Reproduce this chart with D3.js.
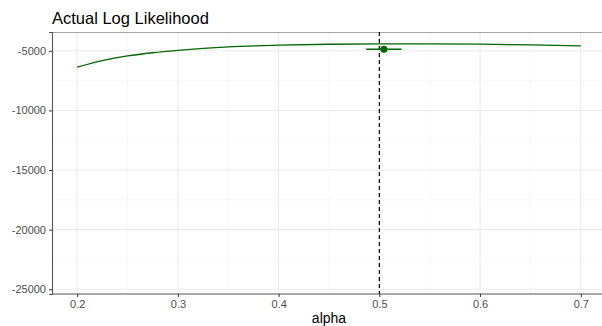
<!DOCTYPE html>
<html>
<head>
<meta charset="utf-8">
<script src="https://cdn.jsdelivr.net/npm/d3@7"></script>
<style>
	body { margin: 0; background: #fff; }
	text { font-family: "Liberation Sans", Arial, sans-serif; }
</style>
</head>
<body>
<div id="chart"></div>
<script>
// log likelihood curve over alpha
var alphas = [0.2, 0.225, 0.25, 0.275, 0.3, 0.35, 0.4, 0.45, 0.5, 0.55, 0.6, 0.65, 0.7];
var logLik = [-6370, -5820, -5430, -5160, -4960, -4670, -4530, -4450, -4425, -4420, -4445, -4500, -4590];

// estimate with horizontal error bar
var estAlpha = [0.5045];
var estLogLik = [-4870];
var estLow = [0.487];
var estHigh = [0.522];

var trueAlpha = 0.5;

var xTicks = [0.2, 0.3, 0.4, 0.5, 0.6, 0.7];
var yTicks = [-5000, -10000, -15000, -20000, -25000];
var yLimits = [-24400, -4420];

var width = 602,
	height = 326;
var margin = {top: 32, right: -4, bottom: 32, left: 52};

var svg = d3.select("#chart")
	.append("svg")
		.attr("width", width)
		.attr("height", height);

var xExt = d3.extent(alphas);
var xPad = (xExt[1] - xExt[0]) * 0.05;
var yPad = (yLimits[1] - yLimits[0]) * 0.05;

var x = d3.scaleLinear()
	.domain([xExt[0] - xPad, xExt[1] + xPad])
	.range([margin.left, width - margin.right]);

var y = d3.scaleLinear()
	.domain([yLimits[0] - yPad, yLimits[1] + yPad])
	.range([height - margin.bottom, margin.top]);

var panel = svg.append("g");

// minor grid
var xMinor = xTicks.map(function(d) { return d + 0.05; }).concat([0.15]);
var yMinor = yTicks.map(function(d) { return d - 2500; }).concat([-2500]);

panel.selectAll("line.xminor")
	.data(xMinor.filter(function(d) { return d > x.domain()[0] && d < x.domain()[1]; }))
	.enter().append("line")
		.attr("x1", function(d) { return x(d); })
		.attr("x2", function(d) { return x(d); })
		.attr("y1", margin.top)
		.attr("y2", height - margin.bottom)
		.attr("stroke", "#f3f3f3")
		.attr("stroke-width", 0.6);

panel.selectAll("line.yminor")
	.data(yMinor.filter(function(d) { return d > y.domain()[0] && d < y.domain()[1]; }))
	.enter().append("line")
		.attr("y1", function(d) { return y(d); })
		.attr("y2", function(d) { return y(d); })
		.attr("x1", margin.left)
		.attr("x2", width)
		.attr("stroke", "#f3f3f3")
		.attr("stroke-width", 0.6);

// major grid
panel.selectAll("line.xmajor")
	.data(xTicks)
	.enter().append("line")
		.attr("x1", function(d) { return x(d); })
		.attr("x2", function(d) { return x(d); })
		.attr("y1", margin.top)
		.attr("y2", height - margin.bottom)
		.attr("stroke", "#ebebeb")
		.attr("stroke-width", 1.1);

panel.selectAll("line.ymajor")
	.data(yTicks)
	.enter().append("line")
		.attr("y1", function(d) { return y(d); })
		.attr("y2", function(d) { return y(d); })
		.attr("x1", margin.left)
		.attr("x2", width)
		.attr("stroke", "#ebebeb")
		.attr("stroke-width", 1.1);

// panel border (top)
panel.append("line")
	.attr("x1", margin.left).attr("x2", width)
	.attr("y1", margin.top + 0.5).attr("y2", margin.top + 0.5)
	.attr("stroke", "#a6a6a6")
	.attr("stroke-width", 1);

// the curve
var line = d3.line()
	.x(function(d) { return x(d[0]); })
	.y(function(d) { return y(d[1]); })
	.curve(d3.curveMonotoneX);

panel.append("path")
	.datum(d3.zip(alphas, logLik))
	.attr("d", line)
	.attr("fill", "none")
	.attr("stroke", "#006400")
	.attr("stroke-width", 1.3);

// dashed reference line
panel.append("line")
	.attr("x1", x(trueAlpha)).attr("x2", x(trueAlpha))
	.attr("y1", margin.top).attr("y2", height - margin.bottom)
	.attr("stroke", "#000")
	.attr("stroke-width", 1.2)
	.attr("stroke-dasharray", "4,3");

// estimate
var est = d3.zip(estAlpha, estLogLik, estLow, estHigh);

panel.selectAll("line.err")
	.data(est)
	.enter().append("line")
		.attr("x1", function(d) { return x(d[2]); })
		.attr("x2", function(d) { return x(d[3]); })
		.attr("y1", function(d) { return y(d[1]); })
		.attr("y2", function(d) { return y(d[1]); })
		.attr("stroke", "#006400")
		.attr("stroke-width", 1.3);

panel.selectAll("circle")
	.data(est)
	.enter().append("circle")
		.attr("cx", function(d) { return x(d[0]); })
		.attr("cy", function(d) { return y(d[1]); })
		.attr("r", 3.6)
		.attr("fill", "#006400");

// axes
var xAxis = svg.append("g")
	.attr("transform", "translate(0," + (height - margin.bottom) + ")")
	.call(d3.axisBottom(x).tickValues(xTicks).tickSize(3).tickPadding(3).tickFormat(d3.format(".1f")));

var yAxis = svg.append("g")
	.attr("transform", "translate(" + margin.left + ",0)")
	.call(d3.axisLeft(y).tickValues(yTicks).tickSize(3).tickPadding(3).tickFormat(function(d) { return String(d); }));

[xAxis, yAxis].forEach(function(a) {
	a.select(".domain").attr("stroke", "#555").attr("stroke-width", 1.1);
	a.selectAll(".tick line").attr("stroke", "#333");
	a.selectAll(".tick text")
		.attr("fill", "#4d4d4d")
		.style("font-size", "11px")
		.style("font-family", "'Liberation Sans', Arial, sans-serif");
});

xAxis.select(".domain").attr("d", "M" + margin.left + ",0H" + width);

// labels
svg.append("text")
	.attr("x", margin.left)
	.attr("y", 24)
	.style("font-size", "16.5px")
	.attr("fill", "#000")
	.text("Actual Log Likelihood");

svg.append("text")
	.attr("x", (x.range()[0] + x.range()[1]) / 2)
	.attr("y", 323)
	.attr("text-anchor", "middle")
	.style("font-size", "14px")
	.attr("fill", "#000")
	.text("alpha");
</script>
</body>
</html>
